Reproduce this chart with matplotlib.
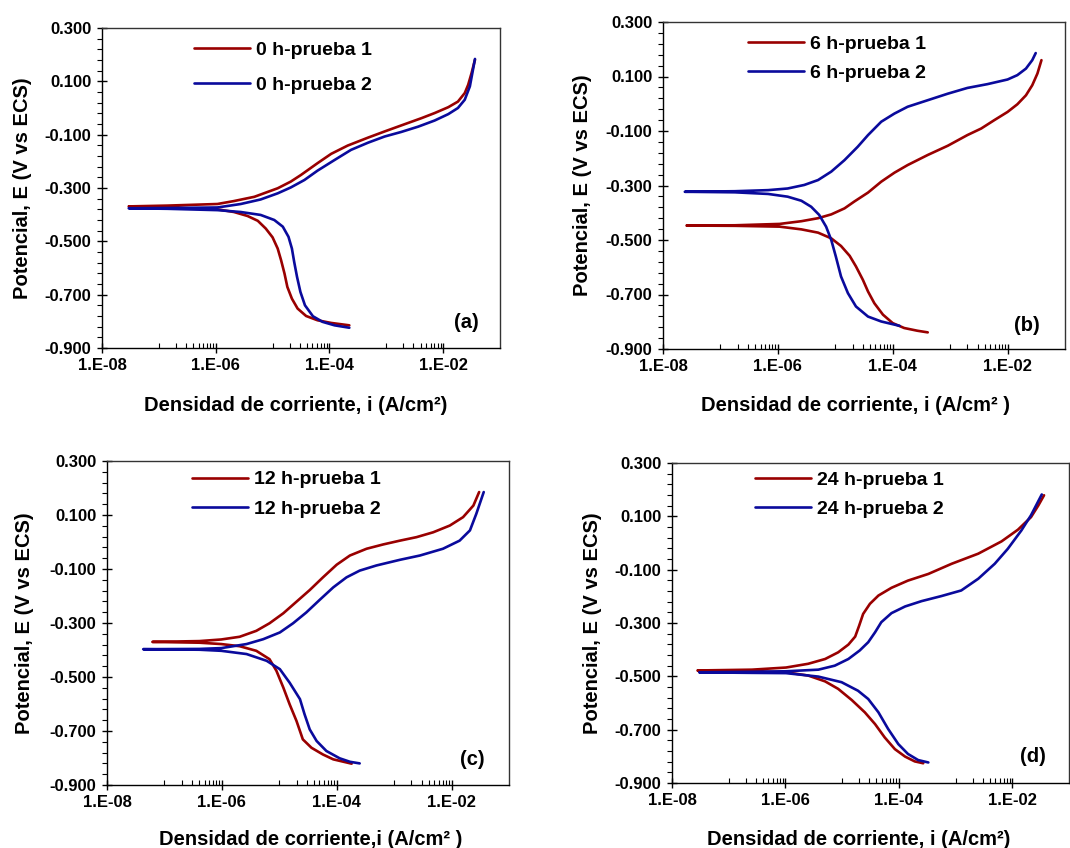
import numpy as np
import matplotlib
matplotlib.use("Agg")
import matplotlib.pyplot as plt
from matplotlib.ticker import FixedLocator, NullFormatter, FuncFormatter

plt.rcParams['font.family'] = ['Liberation Sans', 'DejaVu Sans']
plt.rcParams['font.weight'] = 'bold'

# ---------------- data (log10 of current density A/cm2, potential V vs ECS) -------------
# each curve: cathodic branch (from its far end up to Ecorr), then anodic branch
# panel (a) 0 h
a1_logi = [-3.65, -3.97, -4.21, -4.41, -4.56, -4.66, -4.74, -4.79, -4.85, -4.91, -5.00, -5.12, -5.26, -5.44, -5.68, -5.97, -6.85, -7.53,
           -6.85, -5.97, -5.68, -5.32, -5.09, -4.91, -4.68, -4.50, -4.21, -3.97, -3.68, -3.32, -3.03, -2.68, -2.38, -2.15, -1.91, -1.74, -1.62, -1.56, -1.50, -1.44]
a1_E = [-0.815, -0.806, -0.796, -0.780, -0.752, -0.715, -0.671, -0.621, -0.571, -0.527, -0.485, -0.452, -0.423, -0.405, -0.390, -0.380, -0.373, -0.369,
        -0.366, -0.360, -0.349, -0.333, -0.315, -0.301, -0.276, -0.251, -0.207, -0.172, -0.141, -0.111, -0.088, -0.061, -0.038, -0.019, 0.003, 0.024, 0.056, 0.087, 0.131, 0.181]
a2_logi = [-3.65, -3.91, -4.12, -4.29, -4.43, -4.51, -4.57, -4.62, -4.66, -4.72, -4.82, -4.97, -5.21, -5.56, -5.97, -6.85, -7.53,
           -6.85, -5.97, -5.56, -5.21, -4.91, -4.68, -4.44, -4.21, -3.91, -3.62, -3.32, -3.03, -2.74, -2.44, -2.15, -1.91, -1.74, -1.62, -1.53, -1.44]
a2_E = [-0.824, -0.815, -0.802, -0.781, -0.740, -0.690, -0.633, -0.577, -0.527, -0.483, -0.445, -0.420, -0.401, -0.390, -0.383, -0.378, -0.376,
        -0.375, -0.373, -0.360, -0.343, -0.320, -0.298, -0.270, -0.235, -0.195, -0.157, -0.130, -0.107, -0.090, -0.070, -0.047, -0.023, 0.000, 0.031, 0.081, 0.184]

# panel (b) 6 h
b1_logi = [-3.39, -3.57, -3.80, -4.00, -4.17, -4.32, -4.43, -4.52, -4.64, -4.75, -4.90, -5.07, -5.30, -5.59, -5.97, -6.75, -7.59,
           -6.75, -5.97, -5.59, -5.30, -5.07, -4.84, -4.67, -4.43, -4.20, -3.97, -3.74, -3.39, -3.04, -2.70, -2.46, -2.23, -2.00, -1.83, -1.68, -1.57, -1.48, -1.41]
b1_E = [-0.839, -0.833, -0.823, -0.805, -0.774, -0.732, -0.689, -0.646, -0.597, -0.558, -0.522, -0.494, -0.473, -0.461, -0.451, -0.448, -0.447,
        -0.446, -0.441, -0.431, -0.420, -0.406, -0.384, -0.359, -0.326, -0.286, -0.253, -0.225, -0.188, -0.154, -0.115, -0.091, -0.060, -0.030, -0.002, 0.031, 0.068, 0.111, 0.160]
b2_logi = [-3.88, -4.20, -4.43, -4.64, -4.78, -4.90, -4.99, -5.07, -5.16, -5.28, -5.42, -5.59, -5.83, -6.17, -6.75, -7.62,
           -6.75, -6.17, -5.83, -5.54, -5.30, -5.07, -4.84, -4.61, -4.43, -4.20, -3.97, -3.74, -3.39, -3.04, -2.70, -2.35, -2.00, -1.83, -1.68, -1.57, -1.51]
b2_E = [-0.815, -0.799, -0.781, -0.744, -0.695, -0.634, -0.561, -0.500, -0.451, -0.408, -0.378, -0.356, -0.341, -0.331, -0.325, -0.323,
        -0.321, -0.317, -0.311, -0.298, -0.280, -0.249, -0.207, -0.158, -0.115, -0.066, -0.036, -0.011, 0.013, 0.037, 0.058, 0.072, 0.089, 0.105, 0.129, 0.160, 0.186]

# panel (c) 12 h
c1_logi = [-3.74, -4.06, -4.24, -4.44, -4.59, -4.70, -4.82, -4.93, -5.05, -5.17, -5.40, -5.69, -6.01, -6.39, -7.21,
           -6.39, -6.01, -5.69, -5.40, -5.17, -4.93, -4.70, -4.47, -4.24, -4.00, -3.77, -3.48, -3.19, -2.90, -2.61, -2.32, -2.03, -1.80, -1.62, -1.52]
c1_E = [-0.821, -0.805, -0.787, -0.762, -0.731, -0.663, -0.601, -0.539, -0.477, -0.434, -0.403, -0.386, -0.378, -0.373, -0.370,
        -0.367, -0.361, -0.351, -0.329, -0.301, -0.264, -0.221, -0.178, -0.131, -0.084, -0.050, -0.025, -0.009, 0.005, 0.018, 0.036, 0.061, 0.092, 0.135, 0.185]
c2_logi = [-3.60, -3.77, -3.95, -4.18, -4.35, -4.47, -4.56, -4.64, -4.82, -4.99, -5.22, -5.57, -6.01, -6.39, -7.37,
           -6.39, -6.01, -5.57, -5.28, -4.99, -4.76, -4.53, -4.30, -4.06, -3.83, -3.60, -3.31, -2.90, -2.55, -2.15, -1.86, -1.68, -1.57, -1.44]
c2_E = [-0.820, -0.814, -0.801, -0.774, -0.737, -0.694, -0.638, -0.582, -0.521, -0.471, -0.440, -0.415, -0.403, -0.399, -0.397,
        -0.396, -0.393, -0.378, -0.360, -0.335, -0.301, -0.261, -0.215, -0.168, -0.131, -0.106, -0.087, -0.066, -0.050, -0.025, 0.005, 0.043, 0.104, 0.185]

# panel (d) 24 h
d1_logi = [-3.57, -3.72, -3.89, -4.07, -4.25, -4.42, -4.60, -4.83, -5.07, -5.30, -5.60, -5.99, -6.59, -7.55,
           -6.59, -5.99, -5.60, -5.30, -5.07, -4.89, -4.77, -4.70, -4.63, -4.51, -4.36, -4.13, -3.84, -3.48, -3.07, -2.60, -2.19, -1.90, -1.67, -1.54, -1.44]
d1_E = [-0.826, -0.819, -0.801, -0.773, -0.729, -0.679, -0.635, -0.589, -0.547, -0.519, -0.497, -0.485, -0.481, -0.478,
        -0.475, -0.467, -0.453, -0.435, -0.410, -0.381, -0.351, -0.310, -0.266, -0.228, -0.197, -0.168, -0.141, -0.116, -0.078, -0.040, 0.006, 0.050, 0.097, 0.141, 0.179]
d2_logi = [-3.48, -3.66, -3.84, -4.01, -4.19, -4.36, -4.54, -4.72, -5.01, -5.42, -5.99, -6.59, -7.52,
           -6.59, -5.99, -5.42, -5.13, -4.89, -4.69, -4.54, -4.42, -4.31, -4.13, -3.89, -3.60, -3.25, -2.90, -2.60, -2.31, -2.08, -1.84, -1.67, -1.48]
d2_E = [-0.823, -0.814, -0.791, -0.754, -0.697, -0.635, -0.585, -0.554, -0.522, -0.501, -0.488, -0.487, -0.485,
        -0.483, -0.481, -0.475, -0.460, -0.435, -0.403, -0.372, -0.335, -0.297, -0.263, -0.238, -0.218, -0.199, -0.178, -0.134, -0.078, -0.022, 0.047, 0.104, 0.182]

legend_labels = [("0 h-prueba 1", "0 h-prueba 2"), ("6 h-prueba 1", "6 h-prueba 2"),
                 ("12 h-prueba 1", "12 h-prueba 2"), ("24 h-prueba 1", "24 h-prueba 2")]
panel_tags = ["(a)", "(b)", "(c)", "(d)"]
xlabels = ["Densidad de corriente, i (A/cm²)", "Densidad de corriente, i (A/cm² )",
           "Densidad de corriente,i (A/cm² )", "Densidad de corriente, i (A/cm²)"]
ylabel = "Potencial, E (V vs ECS)"
y_ticks = [0.300, 0.100, -0.100, -0.300, -0.500, -0.700, -0.900]
x_ticks = [1e-8, 1e-6, 1e-4, 1e-2]

RED = "#990000"
BLUE = "#0a0a9c"

series = [((a1_logi, a1_E), (a2_logi, a2_E)),
          ((b1_logi, b1_E), (b2_logi, b2_E)),
          ((c1_logi, c1_E), (c2_logi, c2_E)),
          ((d1_logi, d1_E), (d2_logi, d2_E))]

# layout (pixels of the 1070x848 figure)
W, H = 1070, 848
boxes = [(102, 500, 28, 348), (663, 1065, 22, 349), (107, 509, 461, 785), (672, 1069, 463, 783)]
ylab_x = [-0.176, -0.176, -0.181, -0.177]
xlab_pos = [(0.487, -0.150), (0.478, -0.145), (0.507, -0.140), (0.469, -0.147)]
tag_pos = [(0.915, 0.081), (0.905, 0.073), (0.908, 0.080), (0.909, 0.084)]
leg_pos = [(0.231, 0.959), (0.211, 0.959), (0.211, 0.970), (0.209, 0.975)]
leg_spacing = [0.91, 0.56, 0.6, 0.6]

fig = plt.figure(figsize=(W / 100, H / 100), dpi=100)

minor_x = [k * 10.0 ** e for e in (-7, -5, -3) for k in range(1, 10)]
minor_y = list(np.arange(-0.9, 0.3001, 0.04))

for p in range(4):
    l, r, t, b = boxes[p]
    ax = fig.add_axes([l / W, 1 - b / H, (r - l) / W, (b - t) / H])
    (l1, e1), (l2, e2) = series[p]
    ax.plot(10.0 ** np.array(l1), e1, color=RED, lw=1.9, label=legend_labels[p][0],
            solid_capstyle='round', solid_joinstyle='round')
    ax.plot(10.0 ** np.array(l2), e2, color=BLUE, lw=1.9, label=legend_labels[p][1],
            solid_capstyle='round', solid_joinstyle='round')
    ax.set_xscale('log')
    ax.set_xlim(1e-8, 1e-1)
    ax.set_ylim(-0.9, 0.3)
    ax.xaxis.set_major_locator(FixedLocator(x_ticks))
    ax.xaxis.set_minor_locator(FixedLocator(minor_x))
    ax.xaxis.set_minor_formatter(NullFormatter())
    ax.xaxis.set_major_formatter(FuncFormatter(lambda v, pos: "1.E%+03d" % int(round(np.log10(v))) if v < 1 else ""))
    ax.yaxis.set_major_locator(FixedLocator(y_ticks))
    ax.yaxis.set_minor_locator(FixedLocator(minor_y))
    ax.yaxis.set_major_formatter(FuncFormatter(lambda v, pos: "%.3f" % v))
    ax.tick_params(axis='both', which='major', direction='inout', length=7, width=1, labelsize=12, pad=4)
    ax.tick_params(axis='x', which='minor', direction='in', length=3.5, width=0.8)
    ax.tick_params(axis='y', which='minor', direction='out', length=3.5, width=0.8)
    for lab in ax.get_xticklabels() + ax.get_yticklabels():
        lab.set_fontweight('bold')
    for s in ax.spines.values():
        s.set_linewidth(1.0)
        s.set_color('#333333')
    for s in ('left', 'bottom'):
        ax.spines[s].set_color('black')
    ax.set_ylabel(ylabel, fontsize=14.5, fontweight='bold')
    ax.yaxis.set_label_coords(ylab_x[p], 0.5)
    ax.set_xlabel(xlabels[p], fontsize=14.5, fontweight='bold')
    ax.xaxis.set_label_coords(*xlab_pos[p])
    ax.text(tag_pos[p][0], tag_pos[p][1], panel_tags[p], transform=ax.transAxes,
            fontsize=14.5, fontweight='bold', ha='center', va='center')
    leg = ax.legend(loc='upper left', bbox_to_anchor=leg_pos[p], frameon=False, fontsize=14,
                    handlelength=2.9, handletextpad=0.3, labelspacing=leg_spacing[p],
                    borderpad=0, borderaxespad=0)
    for txt in leg.get_texts():
        txt.set_fontweight('bold')

fig.savefig("out.png", dpi=100)
